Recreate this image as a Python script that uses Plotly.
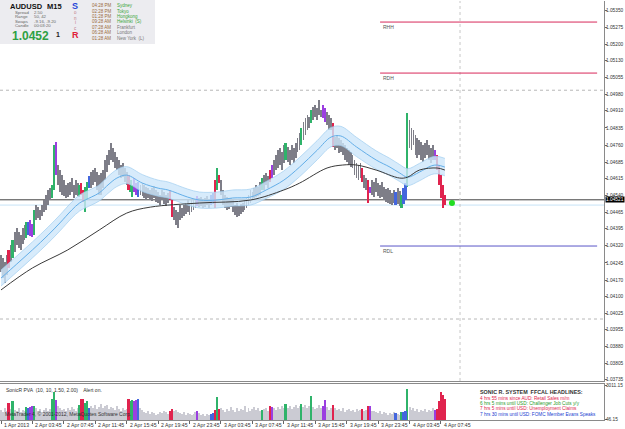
import plotly.graph_objects as go

# ---------------- data ----------------
high = [
 1.04280,1.04267,1.04249,1.04280,1.04302,1.04323,1.04345,1.04380,1.04398,1.04380,
 1.04367,1.04398,1.04411,1.04424,1.04424,1.04433,1.04415,1.04476,1.04498,1.04489,
 1.04476,1.04498,1.04520,1.04542,1.04564,1.04572,1.04586,1.04760,1.04773,1.04673,
 1.04651,1.04629,1.04607,1.04586,1.04594,1.04599,1.04616,1.04586,1.04607,1.04594,
 1.04586,1.04594,1.04564,1.04577,1.04599,1.04625,1.04642,1.04651,1.04660,1.04642,
 1.04629,1.04638,1.04651,1.04695,1.04717,1.04738,1.04769,1.04747,1.04730,1.04708,
 1.04695,1.04673,1.04682,1.04660,1.04642,1.04629,1.04607,1.04586,1.04616,1.04594,
 1.04599,1.04586,1.04594,1.04586,1.04577,1.04572,1.04564,1.04572,1.04581,1.04564,
 1.04555,1.04542,1.04564,1.04555,1.04542,1.04551,1.04564,1.04520,1.04489,1.04476,
 1.04468,1.04498,1.04485,1.04498,1.04507,1.04520,1.04507,1.04520,1.04529,1.04520,
 1.04537,1.04529,1.04533,1.04520,1.04529,1.04537,1.04524,1.04542,1.04551,1.04607,
 1.04660,1.04629,1.04607,1.04564,1.04542,1.04533,1.04520,1.04529,1.04520,1.04498,
 1.04507,1.04494,1.04503,1.04507,1.04520,1.04529,1.04542,1.04564,1.04555,1.04572,
 1.04586,1.04577,1.04599,1.04616,1.04629,1.04638,1.04625,1.04651,1.04673,1.04695,
 1.04717,1.04738,1.04747,1.04730,1.04760,1.04769,1.04752,1.04738,1.04760,1.04747,
 1.04769,1.04791,1.04813,1.04835,1.04861,1.04878,1.04891,1.04883,1.04913,1.04926,
 1.04935,1.04922,1.04957,1.04913,1.04935,1.04922,1.04905,1.04891,1.04878,1.04856,
 1.04795,1.04804,1.04791,1.04782,1.04769,1.04760,1.04747,1.04738,1.04730,1.04717,
 1.04695,1.04682,1.04673,1.04682,1.04660,1.04629,1.04616,1.04607,1.04577,1.04607,
 1.04599,1.04616,1.04594,1.04586,1.04599,1.04577,1.04568,1.04572,1.04564,1.04551,
 1.04564,1.04555,1.04572,1.04559,1.04542,1.04572,1.04594,1.04900,1.04870,1.04835,
 1.04826,1.04804,1.04791,1.04782,1.04773,1.04760,1.04769,1.04782,1.04760,1.04747,
 1.04760,1.04738,1.04717,1.04673,1.04629,1.04586,1.04542]

low = [
 1.04205,1.04179,1.04157,1.04192,1.04223,1.04249,1.04267,1.04293,1.04323,1.04310,
 1.04302,1.04328,1.04345,1.04354,1.04367,1.04363,1.04358,1.04367,1.04433,1.04441,
 1.04433,1.04450,1.04468,1.04476,1.04498,1.04520,1.04529,1.04564,1.04629,1.04586,
 1.04555,1.04542,1.04537,1.04529,1.04533,1.04542,1.04555,1.04529,1.04542,1.04537,
 1.04533,1.04542,1.04511,1.04468,1.04520,1.04572,1.04572,1.04586,1.04599,1.04564,
 1.04542,1.04542,1.04572,1.04607,1.04642,1.04673,1.04695,1.04686,1.04660,1.04651,
 1.04629,1.04616,1.04621,1.04599,1.04586,1.04564,1.04555,1.04533,1.04555,1.04542,
 1.04533,1.04542,1.04537,1.04529,1.04520,1.04529,1.04520,1.04516,1.04529,1.04511,
 1.04507,1.04498,1.04520,1.04503,1.04494,1.04507,1.04520,1.04446,1.04433,1.04411,
 1.04398,1.04433,1.04441,1.04450,1.04459,1.04468,1.04454,1.04468,1.04476,1.04485,
 1.04494,1.04489,1.04494,1.04485,1.04489,1.04498,1.04485,1.04498,1.04503,1.04485,
 1.04564,1.04594,1.04542,1.04498,1.04485,1.04476,1.04481,1.04489,1.04468,1.04454,
 1.04446,1.04450,1.04459,1.04468,1.04476,1.04485,1.04498,1.04507,1.04520,1.04529,
 1.04533,1.04537,1.04542,1.04564,1.04564,1.04586,1.04572,1.04599,1.04616,1.04629,
 1.04651,1.04660,1.04673,1.04651,1.04682,1.04695,1.04686,1.04673,1.04695,1.04682,
 1.04704,1.04730,1.04738,1.04760,1.04782,1.04804,1.04826,1.04835,1.04856,1.04870,
 1.04883,1.04870,1.04891,1.04883,1.04878,1.04861,1.04848,1.04826,1.04826,1.04752,
 1.04738,1.04747,1.04725,1.04730,1.04717,1.04695,1.04686,1.04673,1.04664,1.04660,
 1.04629,1.04616,1.04607,1.04616,1.04599,1.04572,1.04564,1.04507,1.04551,1.04542,
 1.04533,1.04555,1.04537,1.04529,1.04533,1.04520,1.04511,1.04507,1.04503,1.04498,
 1.04507,1.04498,1.04503,1.04494,1.04485,1.04503,1.04520,1.04577,1.04747,1.04738,
 1.04760,1.04717,1.04704,1.04717,1.04695,1.04686,1.04704,1.04717,1.04695,1.04682,
 1.04695,1.04695,1.04651,1.04586,1.04529,1.04485,1.04498]

volume = [
 900,720,1080,810,1530,990,1620,900,810,1080,
 720,900,810,1170,1080,1170,1260,1260,1080,810,
 990,720,900,1080,810,990,1800,2430,1710,1260,
 1080,900,990,810,1080,900,1170,990,810,1080,
 1350,1800,1800,1530,1620,1080,1260,1080,1350,990,
 1170,1440,1080,1260,1350,990,1170,1080,900,1260,
 990,810,1080,900,990,1800,1620,1710,1620,1710,
 1800,1080,900,720,630,810,540,720,630,450,
 540,720,630,810,720,540,810,990,810,900,
 720,630,540,720,450,630,540,450,540,720,
 810,630,450,540,360,540,450,540,630,900,
 1980,990,1080,900,720,990,810,1170,900,720,
 1080,810,990,900,1260,720,1080,810,990,1170,
 900,1080,810,900,990,1080,810,1260,1170,1080,
 900,1170,990,1260,1080,1440,1080,1260,990,1170,
 1350,1080,1260,1440,1170,1350,1080,1260,2070,1170,
 990,1080,1350,1080,1260,1710,1170,900,1080,1350,
 1080,900,990,810,1080,720,900,990,810,900,
 720,990,810,900,990,810,900,1260,1260,810,
 810,720,630,810,540,720,630,450,630,540,
 720,630,540,450,720,720,810,2700,1170,900,
 1080,810,990,720,900,810,990,720,900,810,
 1080,900,990,1620,2430,2160,1800]

# PVA classes of highlighted bars (g=green, r=red, b=blue, p=purple)
pva = {4:'r', 6:'g', 13:'g', 14:'b', 15:'p', 16:'p', 17:'g', 26:'g', 27:'g', 28:'p',
       40:'g', 41:'r', 42:'r', 43:'g', 44:'g', 45:'b', 65:'r', 66:'g', 67:'g', 68:'p',
       69:'p', 70:'b', 86:'r', 87:'r', 100:'p', 107:'b', 108:'b', 109:'r', 110:'g',
       111:'r', 133:'g', 137:'r', 138:'p', 145:'g', 153:'g', 158:'g', 164:'p', 165:'p',
       169:'r', 184:'r', 187:'r', 188:'p', 201:'b', 204:'g', 205:'b', 206:'b', 207:'g',
       221:'p', 222:'r', 223:'r', 224:'r', 225:'r', 226:'r'}

ema_idx = [0,8,16,24,30,36,40,46,50,55,59,64,72,80,85,95,101,110,118,127,135,144,152,161,168,173,181,191,198,203,207,213,219,222,226]
ema_mid = [1.04179,1.04240,1.04302,1.04367,1.04420,1.04476,1.04507,1.04533,1.04551,1.04590,1.04616,1.04629,1.04594,1.04572,1.04564,1.04533,1.04520,1.04520,1.04529,1.04533,1.04564,1.04607,1.04664,1.04738,1.04795,1.04800,1.04752,1.04695,1.04664,1.04638,1.04620,1.04642,1.04669,1.04673,1.04664]
ema_up = [1.04214,1.04275,1.04337,1.04402,1.04455,1.04511,1.04542,1.04568,1.04586,1.04627,1.04653,1.04666,1.04631,1.04607,1.04599,1.04568,1.04555,1.04555,1.04564,1.04568,1.04601,1.04647,1.04706,1.04780,1.04837,1.04842,1.04794,1.04735,1.04702,1.04675,1.04657,1.04680,1.04707,1.04711,1.04702]
ema_lo = [1.04144,1.04205,1.04267,1.04332,1.04385,1.04441,1.04472,1.04498,1.04516,1.04553,1.04579,1.04592,1.04557,1.04537,1.04529,1.04498,1.04485,1.04485,1.04494,1.04498,1.04527,1.04567,1.04622,1.04696,1.04753,1.04758,1.04710,1.04655,1.04626,1.04601,1.04583,1.04604,1.04631,1.04635,1.04626]

sma_idx = [0,16,34,50,64,76,101,127,144,152,166,174,181,191,203,207,213,222,226]
sma_val = [1.04127,1.04223,1.04302,1.04389,1.04463,1.04489,1.04507,1.04520,1.04564,1.04594,1.04660,1.04673,1.04673,1.04651,1.04616,1.04620,1.04651,1.04660,1.04651]

bid = 1.04521
ask_line = 1.04498
round_levels = [1.0500, 1.0400]
levels = {"RHH": 1.05298, "RDH": 1.05075, "RDL": 1.04319}
level_span = [193, 303.5]
now_marker = (229.6, 1.04507)
future_sep = 233.7

price_ticks = [1.05350,1.05275,1.05200,1.05130,1.05055,1.04980,1.04910,1.04835,1.04760,1.04685,
               1.04615,1.04540,1.04465,1.04395,1.04320,1.04245,1.04170,1.04100,1.04025,1.03955,
               1.03880,1.03805,1.03735]
vol_ticks = [46.15, 3011.15]
time_labels = ["1 Apr 2013","2 Apr 03:45","2 Apr 07:45","2 Apr 11:45","2 Apr 15:45","2 Apr 19:45",
               "2 Apr 23:45","3 Apr 03:45","3 Apr 07:45","3 Apr 11:45","3 Apr 15:45","3 Apr 19:45",
               "3 Apr 23:45","4 Apr 03:45","4 Apr 07:45"]
time_label_pos = [16 * k for k in range(len(time_labels))]

assert len(high) == len(low) == len(volume)
N = len(high)

# ---------------- style ----------------
W, H = 625, 429
FONT = "Liberation Sans"
COL = {'g': '#2fb36a', 'r': '#e0234e', 'b': '#4466dd', 'p': '#9b3fe0'}
GRAY_BAR = '#7e7e88'
GRAY_VOL = '#cbcbd3'

def P(x, y):
    return x / W, 1 - y / H

fig = go.Figure()

# EMA band
fig.add_trace(go.Scatter(x=ema_idx, y=ema_up, mode='lines', line=dict(color='rgba(160,205,240,0.7)', width=1, shape='spline'),
                         hoverinfo='skip', showlegend=False))
fig.add_trace(go.Scatter(x=ema_idx, y=ema_lo, mode='lines', line=dict(color='rgba(160,205,240,0.7)', width=1, shape='spline'),
                         fill='tonexty', fillcolor='rgba(205,230,250,0.8)', hoverinfo='skip', showlegend=False))
fig.add_trace(go.Scatter(x=ema_idx, y=ema_mid, mode='lines', line=dict(color='#63aee8', width=1, shape='spline'),
                         hoverinfo='skip', showlegend=False))
# SMA
fig.add_trace(go.Scatter(x=sma_idx, y=sma_val, mode='lines', line=dict(color='#3a3a3a', width=1, shape='spline'),
                         hoverinfo='skip', showlegend=False))

# horizontal reference lines
for lv in round_levels:
    fig.add_hline(y=lv, line=dict(color='#b8b8b8', width=1, dash='dot'), layer='below')
fig.add_hline(y=ask_line, line=dict(color='#c6e3f7', width=1), layer='below')
fig.add_hline(y=bid, line=dict(color='#404040', width=1), layer='below')
fig.add_vline(x=future_sep, line=dict(color='#c8c8c8', width=1, dash='dot'), layer='below')

# price bars
gi = [i for i in range(N) if i not in pva]
fig.add_trace(go.Bar(x=gi, base=[low[i] for i in gi], y=[high[i] - low[i] for i in gi], width=0.42,
                     marker=dict(color=GRAY_BAR, line=dict(width=0)), xaxis='x', yaxis='y', showlegend=False))
for c in 'gbpr':
    ci = [i for i in range(N) if pva.get(i) == c]
    fig.add_trace(go.Bar(x=ci, base=[low[i] for i in ci], y=[high[i] - low[i] for i in ci], width=0.9,
                         marker=dict(color=COL[c], line=dict(width=0)), xaxis='x', yaxis='y', showlegend=False))

# RHH / RDH / RDL levels
for name, lv in levels.items():
    col = '#5a55c8' if name == 'RDL' else '#d8285a'
    fig.add_trace(go.Scatter(x=level_span, y=[lv, lv], mode='lines', line=dict(color=col, width=1),
                             hoverinfo='skip', showlegend=False))
    fig.add_annotation(x=level_span[0] + 0.5, y=lv, yshift=-5, text=name, showarrow=False, xanchor='left',
                       font=dict(family=FONT, size=5, color='#555'))

# current-price marker
fig.add_trace(go.Scatter(x=[now_marker[0]], y=[now_marker[1]], mode='markers',
                         marker=dict(color='#22dd22', size=6), hoverinfo='skip', showlegend=False))

# volume bars
fig.add_trace(go.Bar(x=gi, y=[volume[i] for i in gi], width=0.5, marker=dict(color=GRAY_VOL, line=dict(width=0)),
                     xaxis='x2', yaxis='y2', showlegend=False))
for c in 'gbpr':
    ci = [i for i in range(N) if pva.get(i) == c]
    fig.add_trace(go.Bar(x=ci, y=[volume[i] for i in ci], width=0.9, marker=dict(color=COL[c], line=dict(width=0)),
                         xaxis='x2', yaxis='y2', showlegend=False))

xr = [-0.51, 307.0]
xdom = [0, 604 / W]
TICKF = dict(family=FONT, size=4.8, color='#333')
fig.update_layout(
    width=W, height=H, margin=dict(l=0, r=0, t=0, b=0, pad=0, autoexpand=False),
    paper_bgcolor='white', plot_bgcolor='white', barmode='overlay', bargap=0,
    font=dict(family=FONT, size=6, color='#222'),
    xaxis=dict(domain=xdom, range=xr, showticklabels=False, showgrid=False, zeroline=False, automargin=False,
               showline=True, linecolor='#8a8a8a', linewidth=1, anchor='y'),
    yaxis=dict(domain=[1 - 381 / H, 1 - 1 / H], range=[1.03729, 1.05390], side='right', anchor='x',
               automargin=False, tickvals=price_ticks, ticktext=[f"{v:.5f}" for v in price_ticks],
               ticks='outside', ticklen=2, tickcolor='#666', tickfont=TICKF, ticklabelstandoff=-2,
               showgrid=False, zeroline=False, showline=True, linecolor='#8a8a8a', mirror=True),
    xaxis2=dict(domain=xdom, range=xr, anchor='y2', tickvals=time_label_pos, ticks='outside', ticklen=3,
                automargin=False, tickcolor='#666', showticklabels=False, showgrid=False, zeroline=False,
                showline=True, linecolor='#8a8a8a', mirror=True),
    yaxis2=dict(domain=[1 - 420 / H, 1 - 384 / H], range=[0, 3150], side='right', anchor='x2',
                automargin=False, tickvals=vol_ticks, ticktext=[f"{v:.2f}" for v in vol_ticks], ticks='outside',
                ticklen=2, tickcolor='#666', tickfont=TICKF, ticklabelstandoff=-2,
                showgrid=False, zeroline=False, showline=True, linecolor='#8a8a8a', mirror=True),
)

# time labels
for pos, lab in zip(time_label_pos, time_labels):
    fig.add_annotation(x=pos, xref='x2', y=P(0, 424.5)[1], yref='paper', text=lab, showarrow=False,
                       xanchor='left', xshift=1, yanchor='middle', font=dict(family=FONT, size=5.2, color='#333'))

# bid price box
fig.add_annotation(x=xdom[1], xref='paper', y=bid, yref='y', text=f"{bid:.5f}", showarrow=False,
                   xanchor='left', xshift=1, bgcolor='#000', font=dict(family=FONT, size=4.8, color='#fff'),
                   borderpad=0)

# ---------------- info panel ----------------
x0, y0 = P(0, 0)
x1, y1 = P(155, 44)
fig.add_shape(type='rect', xref='paper', yref='paper', x0=x0, y0=y1, x1=x1, y1=y0,
              fillcolor='#ececf0', line=dict(width=0), layer='above')

def txt(x, y, s, size=6, color='#333', bold=False, anchor='left'):
    px, py = P(x, y)
    if bold:
        s = f"<b>{s}</b>"
    fig.add_annotation(x=px, y=py, xref='paper', yref='paper', text=s, showarrow=False,
                       xanchor=anchor, yanchor='middle', font=dict(family=FONT, size=size, color=color))

txt(8, 6.5, "AUDUSD", 7.5, '#111', True)
txt(45, 6.5, "M15", 7.5, '#111', True)
for yy, lab, val in [(12.5, "Spread", "2.50"), (17, "Range", "50, 42"), (21.5, "Swaps", "-9.16, -9.20"),
                     (26, "Candle", "00:03:20")]:
    txt(13, yy, lab, 4.3, '#666')
    txt(32, yy, val, 4.3, '#666')
txt(10, 35.5, "1.0452", 12, '#2ea043', True)
txt(54, 34.5, "1", 7, '#222', True)
txt(75, 6, "S", 9, '#2646d8', True, 'center')
for yy, ch in [(13, "o"), (18, "n"), (23, "i"), (28, "c")]:
    txt(75, yy, ch, 4.5, '#c07a8a', False, 'center')
txt(75, 35, "R", 9, '#e0203a', True, 'center')
sessions = [("04:28 PM", "Sydney", '#3aa63a'), ("02:28 PM", "Tokyo", '#3aa63a'),
            ("01:28 PM", "Hongkong", '#3aa63a'), ("09:28 AM", "Helsinki  (S)", '#3aa63a'),
            ("07:28 AM", "Frankfurt", '#777'), ("06:28 AM", "London", '#777'),
            ("01:28 AM", "New York  (L)", '#777')]
for k, (t, city, c) in enumerate(sessions):
    yy = 5.7 + k * 5.4
    txt(90, yy, t, 4.5, '#9a6a3a')
    txt(115, yy, city, 4.5, c)

# ---------------- sub-panel texts ----------------
txt(4, 389.5, "SonicR PVA  (10, 10, 1.50, 2.00)    Alert on.", 5, '#333')
txt(3, 414, "MetaTrader 4, © 2001-2012, MetaQuotes Software Corp.", 5, '#333')
txt(478, 392, "SONIC R. SYSTEM  FFCAL HEADLINES:", 5.4, '#333', True)
heads = [("4 hrs 55 mins since AUD: Retail Sales m/m", '#e0204a'),
         ("6 hrs 5 mins until USD: Challenger Job Cuts y/y", '#2a9a2a'),
         ("7 hrs 5 mins until USD: Unemployment Claims", '#e0204a'),
         ("7 hrs 30 mins until USD: FOMC Member Evans Speaks", '#2040d0')]
for k, (s, c) in enumerate(heads):
    txt(478, 398.5 + k * 5.2, s, 4.7, c)

fig.write_html("out.html", config={'displayModeBar': False})
